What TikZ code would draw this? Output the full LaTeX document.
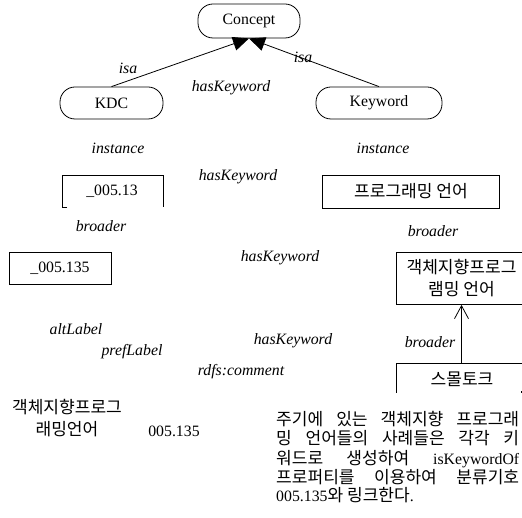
\documentclass[tikz,border=0pt]{standalone}
\usepackage{fontspec}
\setmainfont{Liberation Serif}
\newfontfamily\kr[Scale=1.08]{Noto Sans CJK KR}
\usetikzlibrary{arrows.meta}

\begin{document}
\begin{tikzpicture}[x=1pt,y=-1pt,
  font=\rmfamily\fontsize{15.8}{19}\selectfont,
  edge/.style={line width=0.8pt},
  lbl/.style={inner sep=0pt, font=\rmfamily\fontsize{15.8}{19}\selectfont\itshape},
  txt/.style={inner sep=0pt},
  pill/.style={draw, line width=0.8pt, rounded corners=15pt, inner sep=0pt},
  box/.style={draw, line width=0.8pt, inner sep=0pt},
  isaarrow/.style={edge, -{Triangle[length=16pt,width=14pt]}},
  barb/.style={edge, -{Straight Barb[length=13pt,width=14pt,line width=0.8pt]}},
  para/.style={inner sep=0pt, anchor=base west}
]
\useasboundingbox (0,0) rectangle (522,518);
\clip (0,0) rectangle (522,518);

% classes
\node[pill, minimum width=102pt, minimum height=34pt] (concept) at (249,21) {Concept};
\node[pill, minimum width=103pt, minimum height=32pt] (kdc) at (111.5,103) {KDC};
\node[pill, minimum width=126pt, minimum height=32pt] (keyword) at (379,103) {Keyword};

\draw[isaarrow] (kdc.north) -- (concept.south);
\draw[isaarrow] (keyword.north) -- (concept.south);

\node[lbl] (isaL) at (128,68) {isa};
\node[lbl] (isaR) at (303,57) {isa};
\node[lbl] (hk1) at (231,88) {hasKeyword};

\node[lbl] (instL) at (118,148) {instance};
\node[lbl] (instR) at (383,148) {instance};

% instances
\node[txt] (k13) at (112,191) {\_005.13};
\draw[edge] (67,207.5) -- (62,207.5) -- (62,175) -- (163,175) -- (163,207.5);
\node[box, minimum width=177pt, minimum height=33pt] (prog) at (411,191.5) {\kr 프로그래밍 언어};
\node[lbl] (hk2) at (238,177) {hasKeyword};

\node[lbl] (brL) at (101,226) {broader};
\node[lbl] (brR) at (433,231) {broader};

\node[box, minimum width=102pt, minimum height=32pt] (k135) at (60,268) {\_005.135};
\node[lbl] (hk3) at (280,258) {hasKeyword};

\node[box, minimum width=131pt, minimum height=52.5pt, align=center,
      font=\fontsize{15.8}{22}\selectfont\kr] (oop) at (461.5,278.2) {객체지향프로그\\램밍 언어};

% smalltalk box
\node[txt] (st) at (462,379) {\kr 스몰토크};
\draw[edge] (396,393) -- (396,363) -- (524,363);
\draw[line width=0.8pt] (521.5,391.5) -- (521.5,393.5);
\coordinate (stTop) at (461.5,363);
\draw[barb] (stTop) -- (oop.south);

\node[lbl] (alt) at (76,329) {altLabel};
\node[lbl] (hk4) at (293,341) {hasKeyword};
\node[lbl] (brB) at (430,342) {broader};
\node[lbl] (pref) at (132,352) {prefLabel};
\node[lbl] (cmt) at (241,372) {rdfs:comment};

% literal values
\node[txt, align=center, font=\fontsize{15.8}{21.5}\selectfont\kr] (lit) at (67,418) {객체지향프로그\\래밍언어};
\node[txt] (code) at (174,431) {005.135};

% comment paragraph
\node[para] (p1) at (276,425) {\makebox[243pt][s]{\kr 주기에 있는 객체지향 프로그래}};
\node[para] (p2) at (276,444.5) {\makebox[243pt][s]{\kr 밍 언어들의 사례들은 각각 키}};
\node[para] (p3) at (276,464) {\makebox[243pt][s]{{\kr 워드로 생성하여} isKeywordOf}};
\node[para] (p4) at (276,483) {\makebox[243pt][s]{\kr 프로퍼티를 이용하여 분류기호}};
\node[para] (p5) at (276,501.5) {005.135{\kr 와 링크한다}.};
\end{tikzpicture}
\end{document}
